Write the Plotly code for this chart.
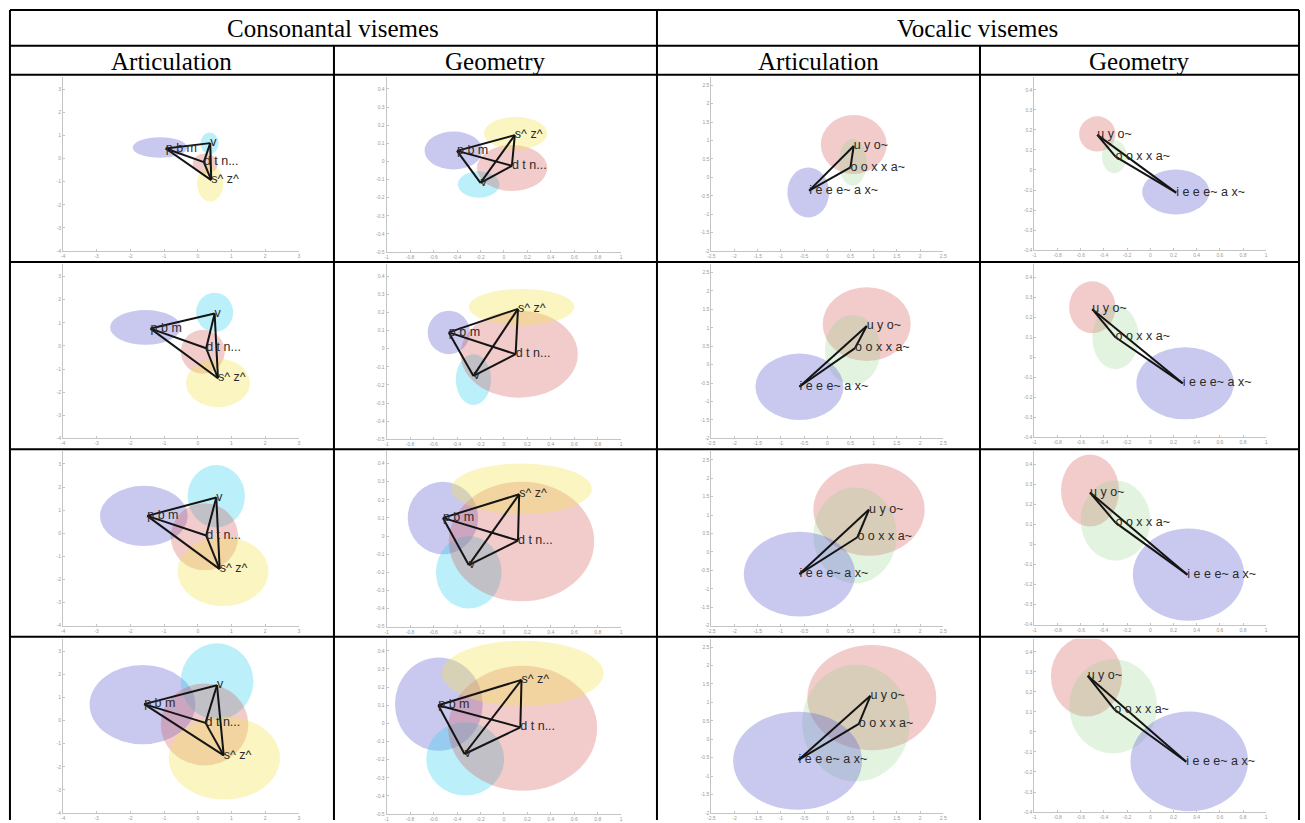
import plotly.graph_objects as go

W, H = 1305, 823

# ---------------------------------------------------------------- data
CONS_LABELS = ["p b m", "v", "d t n...", "s^ z^"]
VOW_LABELS = ["u y o~", "o o x x a~", "i e e e~ a x~"]

# Consonantal visemes, articulation space (rows = 4 model variants)
# order of classes: p b m, v, d t n..., s^ z^
CA_X = [[-0.95, 0.37, 0.18, 0.40], [-1.40, 0.50, 0.25, 0.60], [-1.50, 0.55, 0.25, 0.65], [-1.59, 0.57, 0.23, 0.77]]
CA_Y = [[0.44, 0.67, -0.15, -0.93], [0.75, 1.40, -0.10, -1.40], [0.75, 1.55, -0.10, -1.55], [0.71, 1.53, -0.10, -1.51]]
CA_CX = [[-1.12, 0.35, 0.22, 0.37], [-1.55, 0.50, 0.15, 0.60], [-1.60, 0.55, 0.20, 0.75], [-1.64, 0.57, 0.20, 0.79]]
CA_CY = [[0.48, 0.66, -0.22, -1.08], [0.80, 1.45, -0.25, -1.60], [0.75, 1.60, -0.15, -1.65], [0.69, 1.69, -0.17, -1.62]]
CA_RX = [[0.81, 0.27, 0.37, 0.39], [1.05, 0.55, 0.65, 0.95], [1.30, 0.85, 1.00, 1.35], [1.57, 1.08, 1.30, 1.65]]
CA_RY = [[0.44, 0.47, 0.44, 0.77], [0.75, 0.85, 0.95, 1.05], [1.30, 1.35, 1.45, 1.50], [1.71, 1.65, 1.77, 1.80]]

# Consonantal visemes, geometric space
CG_X = [[-0.40, -0.20, 0.068, 0.093], [-0.47, -0.26, 0.10, 0.12], [-0.52, -0.30, 0.12, 0.13], [-0.56, -0.336, 0.14, 0.15]]
CG_Y = [[0.058, -0.118, -0.024, 0.145], [0.09, -0.15, -0.03, 0.22], [0.10, -0.16, -0.025, 0.23], [0.10, -0.169, -0.022, 0.24]]
CG_CX = [[-0.43, -0.215, 0.07, 0.10], [-0.47, -0.26, 0.13, 0.15], [-0.52, -0.30, 0.15, 0.15], [-0.555, -0.33, 0.16, 0.16]]
CG_CY = [[0.06, -0.127, -0.036, 0.155], [0.09, -0.17, -0.03, 0.23], [0.10, -0.20, -0.03, 0.26], [0.106, -0.196, -0.027, 0.276]]
CG_RX = [[0.247, 0.177, 0.30, 0.27], [0.18, 0.15, 0.50, 0.45], [0.30, 0.28, 0.62, 0.60], [0.374, 0.332, 0.635, 0.69]]
CG_RY = [[0.105, 0.073, 0.127, 0.09], [0.12, 0.14, 0.24, 0.10], [0.20, 0.20, 0.33, 0.14], [0.257, 0.202, 0.344, 0.18]]

# Vocalic visemes, articulation space; order: u y o~, o o x x a~, i e e e~ a x~
VA_X = [[0.57, 0.50, -0.39], [0.85, 0.60, -0.60], [0.90, 0.65, -0.60], [0.93, 0.68, -0.62]]
VA_Y = [[0.85, 0.27, -0.36], [1.05, 0.45, -0.60], [1.15, 0.40, -0.60], [1.18, 0.42, -0.56]]
VA_CX = [[0.57, 0.55, -0.41], [0.85, 0.55, -0.60], [0.90, 0.60, -0.60], [0.96, 0.62, -0.64]]
VA_CY = [[0.89, 0.41, -0.41], [1.10, 0.40, -0.60], [1.15, 0.45, -0.60], [1.13, 0.44, -0.58]]
VA_RX = [[0.71, 0.30, 0.45], [0.95, 0.60, 0.95], [1.20, 0.90, 1.20], [1.39, 1.16, 1.39]]
VA_RY = [[0.80, 0.64, 0.68], [1.00, 0.95, 0.90], [1.25, 1.30, 1.15], [1.43, 1.58, 1.33]]

# Vocalic visemes, geometric space
VG_X = [[-0.457, -0.30, 0.223], [-0.50, -0.30, 0.28], [-0.52, -0.30, 0.32], [-0.54, -0.31, 0.31]]
VG_Y = [[0.175, 0.067, -0.113], [0.24, 0.10, -0.13], [0.26, 0.11, -0.15], [0.28, 0.112, -0.149]]
VG_CX = [[-0.457, -0.31, 0.22], [-0.50, -0.30, 0.30], [-0.52, -0.30, 0.33], [-0.55, -0.32, 0.336]]
VG_CY = [[0.18, 0.067, -0.11], [0.25, 0.10, -0.13], [0.27, 0.12, -0.15], [0.277, 0.128, -0.147]]
VG_RX = [[0.157, 0.107, 0.29], [0.20, 0.20, 0.42], [0.25, 0.30, 0.48], [0.307, 0.38, 0.507]]
VG_RY = [[0.088, 0.083, 0.112], [0.13, 0.16, 0.18], [0.18, 0.20, 0.23], [0.20, 0.235, 0.249]]

# tick labels
ART_C_TICKS = ["-4", "-3", "-2", "-1", "0", "1", "2", "3"]
ART_C_TICKV = [-4, -3, -2, -1, 0, 1, 2, 3]
GEO_X_TICKS = ["-1", "-0.8", "-0.6", "-0.4", "-0.2", "0", "0.2", "0.4", "0.6", "0.8", "1"]
GEO_X_TICKV = [-1, -0.8, -0.6, -0.4, -0.2, 0, 0.2, 0.4, 0.6, 0.8, 1]
GEO_C_Y_TICKS = ["-0.5", "-0.4", "-0.3", "-0.2", "-0.1", "0", "0.1", "0.2", "0.3", "0.4"]
GEO_C_Y_TICKV = [-0.5, -0.4, -0.3, -0.2, -0.1, 0, 0.1, 0.2, 0.3, 0.4]
ART_V_X_TICKS = ["-2.5", "-2", "-1.5", "-1", "-0.5", "0", "0.5", "1", "1.5", "2", "2.5"]
ART_V_X_TICKV = [-2.5, -2, -1.5, -1, -0.5, 0, 0.5, 1, 1.5, 2, 2.5]
ART_V_Y_TICKS = ["-2", "-1.5", "-1", "-0.5", "0", "0.5", "1", "1.5", "2", "2.5"]
ART_V_Y_TICKV = [-2, -1.5, -1, -0.5, 0, 0.5, 1, 1.5, 2, 2.5]
GEO_V_Y_TICKS = ["-0.4", "-0.3", "-0.2", "-0.1", "0", "0.1", "0.2", "0.3", "0.4"]
GEO_V_Y_TICKV = [-0.4, -0.3, -0.2, -0.1, 0, 0.1, 0.2, 0.3, 0.4]

GROUP_HEADERS = ["Consonantal visemes", "Vocalic visemes"]
COLUMN_HEADERS = ["Articulation", "Geometry", "Articulation", "Geometry"]

# ---------------------------------------------------------------- styles
BLUE = "rgba(98,98,212,0.34)"
CYAN = "rgba(55,212,241,0.34)"
RED = "rgba(212,84,84,0.30)"
YELLOW = "rgba(241,226,84,0.36)"
GREEN = "rgba(150,212,140,0.28)"
CONS_COLORS = [BLUE, CYAN, RED, YELLOW]
VOW_COLORS = [RED, GREEN, BLUE]
CONS_EDGES = [(0, 1), (0, 2), (0, 3), (1, 2), (1, 3), (2, 3)]
VOW_EDGES = [(0, 1), (1, 2), (2, 0)]

# table geometry (pixels)
TABLE_L, TABLE_R = 6, 1303
COL_B = [6, 332, 657, 982, 1303]
HEAD_Y = [10, 46, 75]
ROW_PITCH = 188

# per-column axis placement inside a cell
COLS = [
    dict(xpx=(59.3, 296.7), xr=(-4, 3), ybot=177, unit=23.2, y0=-4,
         xtv=ART_C_TICKV, xtt=ART_C_TICKS, ytv=ART_C_TICKV, ytt=ART_C_TICKS),
    dict(xpx=(385, 621), xr=(-1, 1), ybot=178, unit=182, y0=-0.5,
         xtv=GEO_X_TICKV, xtt=GEO_X_TICKS, ytv=GEO_C_Y_TICKV, ytt=GEO_C_Y_TICKS),
    dict(xpx=(711.7, 945), xr=(-2.5, 2.5), ybot=177, unit=37, y0=-2,
         xtv=ART_V_X_TICKV, xtt=ART_V_X_TICKS, ytv=ART_V_Y_TICKV, ytt=ART_V_Y_TICKS),
    dict(xpx=(1036.7, 1270), xr=(-1, 1), ybot=176, unit=201, y0=-0.4,
         xtv=GEO_X_TICKV, xtt=GEO_X_TICKS, ytv=GEO_V_Y_TICKV, ytt=GEO_V_Y_TICKS),
]

PANELS = [
    (CONS_LABELS, CA_X, CA_Y, CA_CX, CA_CY, CA_RX, CA_RY, CONS_COLORS, CONS_EDGES),
    (CONS_LABELS, CG_X, CG_Y, CG_CX, CG_CY, CG_RX, CG_RY, CONS_COLORS, CONS_EDGES),
    (VOW_LABELS, VA_X, VA_Y, VA_CX, VA_CY, VA_RX, VA_RY, VOW_COLORS, VOW_EDGES),
    (VOW_LABELS, VG_X, VG_Y, VG_CX, VG_CY, VG_RX, VG_RY, VOW_COLORS, VOW_EDGES),
]

fig = go.Figure()
shapes = []
annotations = []
layout_axes = {}

axis_common = dict(showgrid=False, zeroline=False, showline=True, linecolor="#c4c4c4",
                   linewidth=1, ticks="inside", ticklen=2, tickcolor="#c4c4c4",
                   tickfont=dict(size=5, color="#9a9a9a", family="Liberation Sans"),
                   fixedrange=True)

for r in range(4):
    cell_top = HEAD_Y[2] + r * ROW_PITCH
    for c in range(4):
        spec = COLS[c]
        labels, X, Y, CX, CY, RX, RY, colors, edges = PANELS[c]
        n = r * 4 + c + 1
        xa = "x" if n == 1 else f"x{n}"
        ya = "y" if n == 1 else f"y{n}"
        bottom = cell_top + spec["ybot"]
        top = cell_top + 2
        y1 = spec["y0"] + (bottom - top) / spec["unit"]
        layout_axes["xaxis" if n == 1 else f"xaxis{n}"] = dict(
            axis_common, domain=[spec["xpx"][0] / W, spec["xpx"][1] / W], range=list(spec["xr"]),
            anchor=ya, tickvals=spec["xtv"], ticktext=spec["xtt"])
        layout_axes["yaxis" if n == 1 else f"yaxis{n}"] = dict(
            axis_common, domain=[1 - bottom / H, 1 - top / H], range=[spec["y0"], y1],
            anchor=xa, tickvals=spec["ytv"], ticktext=spec["ytt"])

        # ellipses for each viseme class
        for k in range(len(labels)):
            shapes.append(dict(type="circle", xref=xa, yref=ya, layer="below",
                               x0=CX[r][k] - RX[r][k], x1=CX[r][k] + RX[r][k],
                               y0=CY[r][k] - RY[r][k], y1=CY[r][k] + RY[r][k],
                               fillcolor=colors[k], line=dict(width=0)))
        # links between class centroids
        lx, ly = [], []
        for a, b in edges:
            lx += [X[r][a], X[r][b], None]
            ly += [Y[r][a], Y[r][b], None]
        fig.add_trace(go.Scatter(x=lx, y=ly, mode="lines", xaxis=xa, yaxis=ya,
                                 line=dict(color="#141414", width=2),
                                 hoverinfo="skip", showlegend=False))
        fig.add_trace(go.Scatter(x=X[r], y=Y[r], mode="text", text=labels, xaxis=xa, yaxis=ya,
                                 textposition="middle right", cliponaxis=False,
                                 textfont=dict(size=12.5, color="#2a2a2a", family="Liberation Sans"),
                                 hoverinfo="skip", showlegend=False))

# table rules
def px_x(v):
    return v / W

def px_y(v):
    return 1 - v / H

line_style = dict(color="black", width=2)
row_lines = HEAD_Y + [HEAD_Y[2] + ROW_PITCH * i for i in range(1, 4)]
for yv in row_lines:
    shapes.append(dict(type="line", xref="paper", yref="paper", layer="above",
                       x0=px_x(TABLE_L), x1=px_x(TABLE_R), y0=px_y(yv), y1=px_y(yv), line=line_style))
for xv in [COL_B[0], COL_B[2], COL_B[4]]:
    shapes.append(dict(type="line", xref="paper", yref="paper", layer="above",
                       x0=px_x(xv), x1=px_x(xv), y0=px_y(HEAD_Y[0]), y1=0, line=line_style))
for xv in [COL_B[1], COL_B[3]]:
    shapes.append(dict(type="line", xref="paper", yref="paper", layer="above",
                       x0=px_x(xv), x1=px_x(xv), y0=px_y(HEAD_Y[1]), y1=0, line=line_style))

head_font = dict(family="Liberation Serif", size=25, color="black")
for i, txt in enumerate(GROUP_HEADERS):
    xc = (COL_B[2 * i] + COL_B[2 * i + 2]) / 2
    annotations.append(dict(text=txt, x=px_x(xc), y=px_y((HEAD_Y[0] + HEAD_Y[1]) / 2 + 1),
                            xref="paper", yref="paper", showarrow=False, font=head_font,
                            xanchor="center", yanchor="middle"))
for i, txt in enumerate(COLUMN_HEADERS):
    xc = (COL_B[i] + COL_B[i + 1]) / 2
    annotations.append(dict(text=txt, x=px_x(xc), y=px_y((HEAD_Y[1] + HEAD_Y[2]) / 2 + 1),
                            xref="paper", yref="paper", showarrow=False, font=head_font,
                            xanchor="center", yanchor="middle"))

fig.update_layout(width=W, height=H, margin=dict(l=0, r=0, t=0, b=0),
                  paper_bgcolor="white", plot_bgcolor="rgba(0,0,0,0)",
                  shapes=shapes, annotations=annotations, showlegend=False, **layout_axes)

fig.write_html("out.html", config={"displayModeBar": False})
